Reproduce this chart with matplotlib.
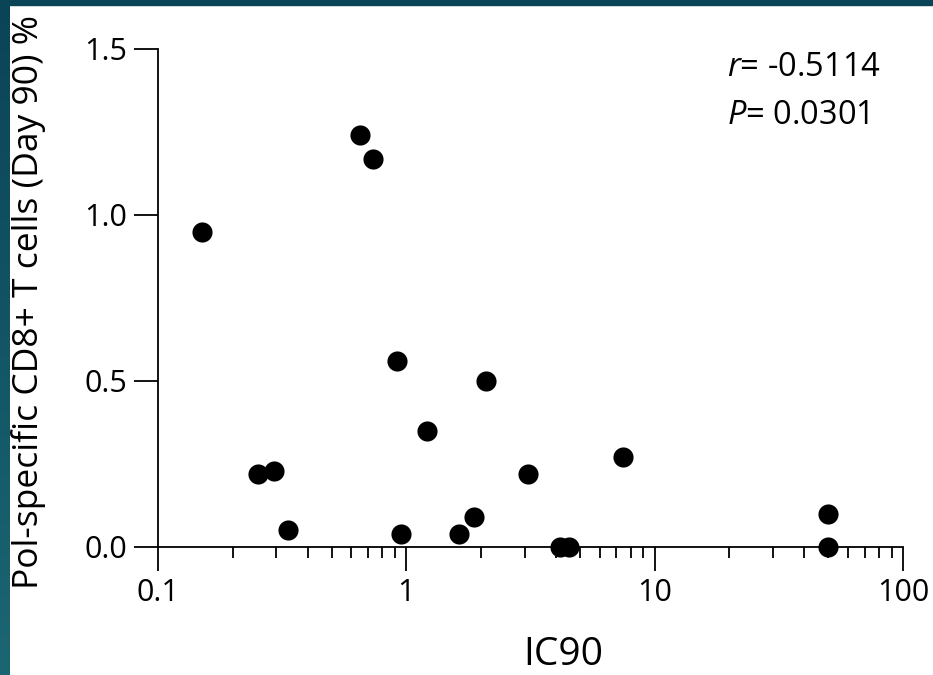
import matplotlib
matplotlib.use("Agg")
import matplotlib.pyplot as plt
from matplotlib.ticker import LogLocator, FixedLocator, NullFormatter
from matplotlib.colors import LinearSegmentedColormap
from matplotlib.patches import Rectangle
import numpy as np

ic90 = [0.150, 0.253, 0.294, 0.334, 0.651, 0.734, 0.917, 0.952, 1.21, 1.63,
        1.87, 2.09, 3.09, 4.16, 4.52, 7.46, 49.9, 49.9]
cd8_pct = [0.95, 0.22, 0.23, 0.05, 1.24, 1.17, 0.56, 0.04, 0.35, 0.04,
           0.09, 0.50, 0.22, 0.00, 0.00, 0.27, 0.10, 0.00]
x_ticks = [0.1, 1, 10, 100]
x_ticklabels = ["0.1", "1", "10", "100"]
y_ticks = [0.0, 0.5, 1.0, 1.5]
y_ticklabels = ["0.0", "0.5", "1.0", "1.5"]
stats_text = ["$\\it{r}$= -0.5114", "$\\it{P}$= 0.0301"]

plt.rcParams['font.family'] = ['Open Sans', 'DejaVu Sans']
plt.rcParams['mathtext.fontset'] = 'custom'
plt.rcParams['mathtext.it'] = 'Open Sans:italic'
plt.rcParams['mathtext.rm'] = 'Open Sans'

fig = plt.figure(figsize=(9.33, 6.75), dpi=100)
# dark frame border
grad = np.linspace(0, 1, 256).reshape(-1, 1)
cmap = LinearSegmentedColormap.from_list("b", ["#0a4457", "#1c6672"])
bax = fig.add_axes([0, 0, 10/933, 1])
bax.imshow(grad, aspect='auto', cmap=cmap)
bax.set_axis_off()
fig.add_artist(Rectangle((0, 1 - 5/675), 1, 5/675, transform=fig.transFigure,
                         color="#0a4457", zorder=5))

ax = fig.add_axes([158/933, (675-547)/675, (903-158)/933, (547-49)/675])
ax.scatter(ic90, cd8_pct, s=210, color="black", zorder=3, clip_on=False, linewidths=0)
ax.set_xscale('log')
ax.set_xlim(0.1, 100)
ax.set_ylim(0, 1.5)
ax.spines['top'].set_visible(False)
ax.spines['right'].set_visible(False)
for s in ['left', 'bottom']:
    ax.spines[s].set_linewidth(1.3)
ax.xaxis.set_major_locator(FixedLocator(x_ticks))
ax.set_xticklabels(x_ticklabels)
ax.xaxis.set_minor_locator(LogLocator(base=10, subs=np.arange(2, 10)))
ax.xaxis.set_minor_formatter(NullFormatter())
ax.set_yticks(y_ticks)
ax.set_yticklabels(y_ticklabels)
ax.tick_params(axis='both', which='major', length=17, width=1.3, labelsize=22, pad=5)
ax.tick_params(axis='x', which='minor', length=8, width=1.3)

fig.text(29/933, 1 - 302/675, "Pol-specific CD8+ T cells (Day 90) %", fontsize=25.5,
         rotation=90, ha='center', va='center')
fig.text(563/933, 1 - 655/675, "IC90", fontsize=28, ha='center', va='center')
fig.text(727/933, 1 - 68/675, stats_text[0], fontsize=23.5, va='center', ha='left')
fig.text(727/933, 1 - 115/675, stats_text[1], fontsize=23.5, va='center', ha='left')

fig.savefig("out.png", dpi=100)
